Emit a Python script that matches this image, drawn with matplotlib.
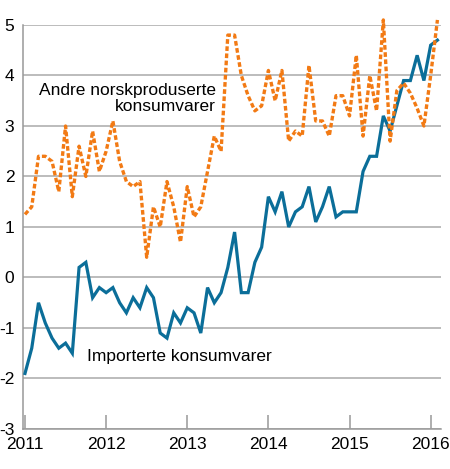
import numpy as np
import matplotlib.pyplot as plt

plt.rcParams['font.family'] = ['Liberation Sans', 'DejaVu Sans']

# monthly values, Jan 2011 - Feb 2016
importerte = [-1.9, -1.4, -0.5, -0.9, -1.2, -1.4, -1.3, -1.5, 0.2, 0.3, -0.4, -0.2,
              -0.3, -0.2, -0.5, -0.7, -0.4, -0.6, -0.2, -0.4, -1.1, -1.2, -0.7, -0.9,
              -0.6, -0.7, -1.1, -0.2, -0.5, -0.3, 0.2, 0.9, -0.3, -0.3, 0.3, 0.6,
              1.6, 1.3, 1.7, 1.0, 1.3, 1.4, 1.8, 1.1, 1.4, 1.8, 1.2, 1.3,
              1.3, 1.3, 2.1, 2.4, 2.4, 3.2, 2.9, 3.4, 3.9, 3.9, 4.4, 3.9,
              4.6, 4.7]
andre = [1.25, 1.4, 2.4, 2.4, 2.3, 1.7, 3.0, 1.6, 2.6, 2.0, 2.9, 2.1,
         2.5, 3.1, 2.3, 1.9, 1.8, 1.9, 0.4, 1.4, 1.0, 1.9, 1.4, 0.7,
         1.8, 1.2, 1.4, 2.1, 2.8, 2.5, 4.8, 4.8, 4.0, 3.6, 3.3, 3.4,
         4.1, 3.5, 4.1, 2.7, 2.9, 2.8, 4.2, 3.1, 3.1, 2.8, 3.6, 3.6,
         3.2, 4.4, 2.8, 4.0, 3.3, 5.1, 2.7, 3.7, 3.85, 3.65, 3.35, 3.0,
         4.0, 5.1]
t = 2011 + np.arange(len(importerte)) / 12
years = [2011, 2012, 2013, 2014, 2015, 2016]
yticks = [-3, -2, -1, 0, 1, 2, 3, 4, 5]

fig = plt.figure(figsize=(4.5, 4.69), dpi=100)
ax = fig.add_axes([0.0504, 0.0853, 0.9289, 0.8614])

ax.plot(t, importerte, color='#0b6e99', lw=2.3, solid_joinstyle='miter', zorder=3)
ax.plot(t, andre, color='#f27a14', lw=2.4, linestyle=(0, (1.4, 0.75)),
        dash_capstyle='butt', clip_on=False, zorder=3)

ax.set_xlim(2011 - 2.3 / 81, 2016 + 10 / 81)
ax.set_ylim(-3, 5)
ax.set_xticks(years)
ax.set_yticks(yticks)
ax.set_yticklabels([str(v) for v in yticks])
ax.grid(axis='y', color='#aaaaaa', lw=1.1)
ax.set_axisbelow(True)
for s in ['top', 'right']:
    ax.spines[s].set_visible(False)
for s in ['left', 'bottom']:
    ax.spines[s].set_color('#999999')
    ax.spines[s].set_linewidth(1.1)
ax.tick_params(axis='x', direction='in', length=10, width=1.1, color='#999999',
               labelsize=12.5, pad=6)
ax.tick_params(axis='y', length=0, labelsize=12.5, pad=6)

ax.text(2013.35, 3.54, 'Andre norskproduserte\nkonsumvarer', ha='right', va='center',
        fontsize=12.5, linespacing=1.12)
ax.text(2011.76, -1.57, 'Importerte konsumvarer', ha='left', va='center', fontsize=12.5)

fig.savefig('out.png', dpi=100)
